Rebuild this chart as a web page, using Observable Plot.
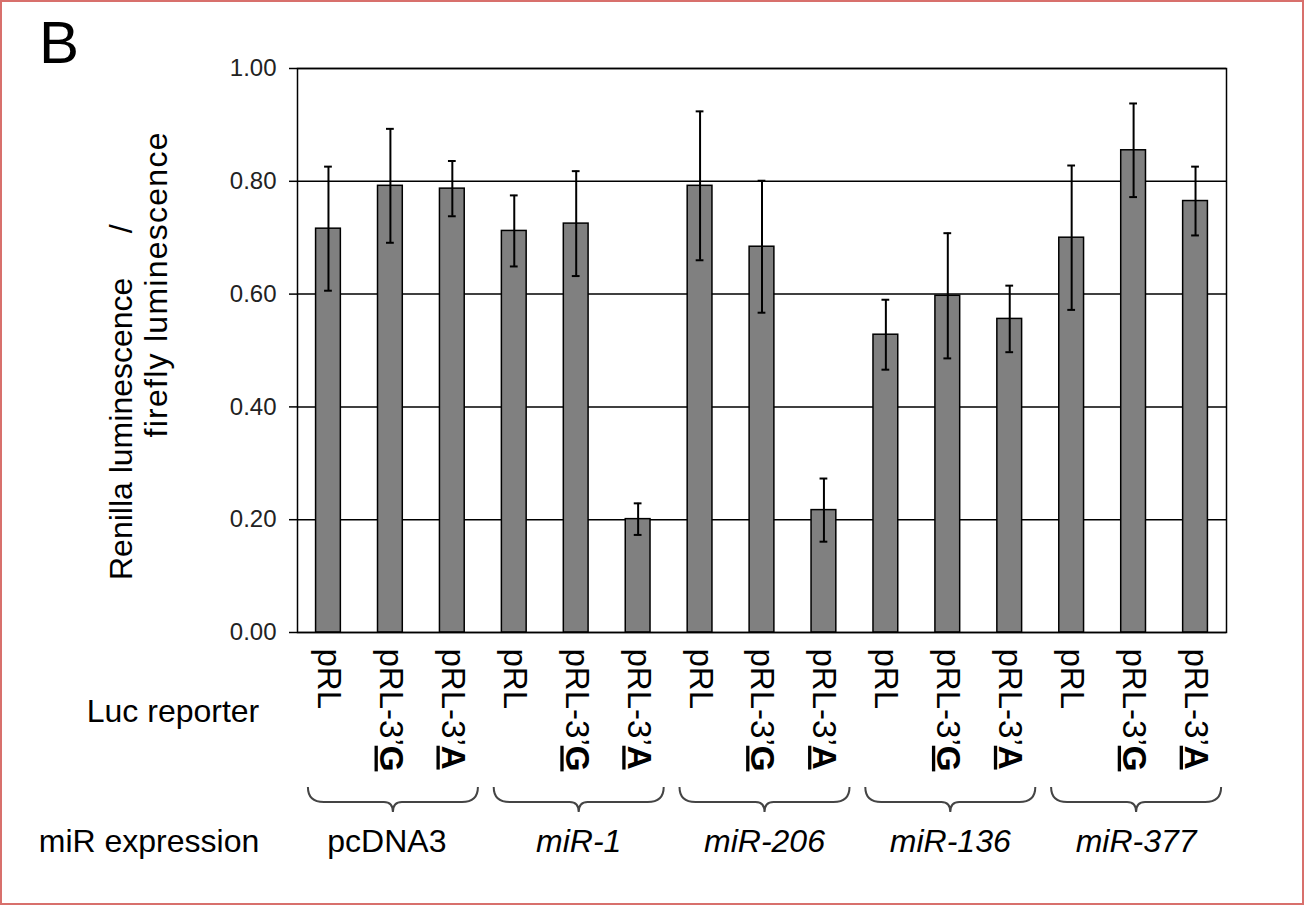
<!DOCTYPE html>
<html><head><meta charset="utf-8">
<script src="https://cdn.jsdelivr.net/npm/d3@7"></script>
<script src="https://cdn.jsdelivr.net/npm/@observablehq/plot@0.6"></script>
<style>
html,body{margin:0;padding:0;background:#fff;}
#chart{position:absolute;left:0;top:0;width:1304px;height:905px;}
#border{position:absolute;left:0;top:0;width:1304px;height:905px;box-sizing:border-box;border:2px solid #d8706c;pointer-events:none;}
</style></head><body><div id="chart"></div><div id="border"></div>
<script>
const groups = ["pcDNA3", "miR-1", "miR-206", "miR-136", "miR-377"];
const reporters = ["pRL", "pRL-3\u2019G", "pRL-3\u2019A"];
const values = [0.716, 0.792, 0.787, 0.712, 0.725, 0.201, 0.792, 0.684, 0.217, 0.528, 0.597, 0.556, 0.700, 0.855, 0.765];
const errors = [0.110, 0.101, 0.049, 0.063, 0.093, 0.028, 0.132, 0.117, 0.056, 0.062, 0.111, 0.059, 0.128, 0.083, 0.061];
const yTicks = [0, 0.2, 0.4, 0.6, 0.8, 1.0];

const FONT = "'Liberation Sans', Arial, sans-serif";
const data = groups.flatMap((g, gi) => reporters.map((r, ri) => {
  const i = gi * 3 + ri;
  return {id: g + "|" + r, group: g, reporter: r, value: values[i], lo: values[i] - errors[i], hi: values[i] + errors[i]};
}));

const chart = Plot.plot({
  width: 1304, height: 905,
  marginLeft: 297, marginRight: 78, marginTop: 68, marginBottom: 273,
  style: {fontFamily: FONT, background: "transparent", color: "#000"},
  x: {domain: data.map(d => d.id), paddingInner: 0.6, paddingOuter: 0.3, round: false, label: null},
  y: {domain: [0, 1], label: null},
  marks: [
    Plot.gridY(yTicks, {stroke: "#000", strokeOpacity: 1, strokeWidth: 1.5}),
    Plot.barY(data, {x: "id", y: "value", fill: "#808080", stroke: "#000", strokeWidth: 1.5}),
    Plot.ruleX(data, {x: "id", y1: "lo", y2: "hi", stroke: "#000", strokeWidth: 2}),
    Plot.tickY(data, {x: "id", y: "hi", stroke: "#000", strokeWidth: 2, insetLeft: 8.5, insetRight: 8.5}),
    Plot.tickY(data, {x: "id", y: "lo", stroke: "#000", strokeWidth: 2, insetLeft: 8.5, insetRight: 8.5}),
    Plot.frame({stroke: "#000", strokeWidth: 1.5}),
    Plot.axisY({ticks: yTicks, tickFormat: d3.format(".2f"), tickSize: 8, tickPadding: 13, fontSize: 24, stroke: "#000", strokeWidth: 1.5, label: null, fill: "#222"}),
    Plot.axisX({tickSize: 0, tickPadding: 16, tickRotate: 90, textAnchor: "start", lineAnchor: "middle", fontSize: 33, tickFormat: id => id.split("|")[1], label: null})
  ]
});
document.getElementById("chart").appendChild(chart);

const svg = d3.select(chart);
// bold underlined G / A in reporter labels
svg.selectAll('g[aria-label="x-axis tick label"] text').each(function() {
  const t = d3.select(this);
  const s = t.text();
  if (s.length > 3) {
    t.text(null);
    t.append("tspan").text(s.slice(0, -1));
    t.append("tspan").attr("font-weight", "bold").style("text-decoration", "underline").text(s.slice(-1));
  }
});

const xs = chart.scale("x");
const ann = svg.append("g").attr("font-family", FONT).attr("fill", "#000").attr("text-anchor", "start");
groups.forEach((g, gi) => {
  const cm = xs.apply(g + "|" + reporters[1]) + xs.bandwidth / 2;
  const c = cm + 3;
  const x0 = c - 85, x1 = c + 85, yt = 787, yh = 802, yb = 812;
  ann.append("path")
    .attr("d", `M${x0},${yt} Q${x0},${yh} ${x0 + 16},${yh} L${c - 9},${yh} Q${c},${yh} ${c},${yb} Q${c},${yh} ${c + 9},${yh} L${x1 - 16},${yh} Q${x1},${yh} ${x1},${yt}`)
    .attr("fill", "none").attr("stroke", "#444").attr("stroke-width", 2);
  ann.append("text").attr("x", gi === 0 ? cm - 3 : cm + 3).attr("y", 852).attr("text-anchor", "middle")
    .attr("font-size", 32).attr("font-style", gi === 0 ? "normal" : "italic").text(g);
});

ann.append("text").attr("x", 39).attr("y", 63).attr("text-anchor", "start").attr("font-size", 60).text("B");
ann.append("text").attr("x", 173).attr("y", 722).attr("text-anchor", "middle").attr("font-size", 32).text("Luc reporter");
ann.append("text").attr("x", 149).attr("y", 852).attr("text-anchor", "middle").attr("font-size", 32).text("miR expression");
ann.append("text").attr("transform", "translate(132,580) rotate(-90)").attr("text-anchor", "start").attr("font-size", 32)
  .style("white-space", "pre").text("Renilla luminescence     /");
ann.append("text").attr("transform", "translate(167,285) rotate(-90)").attr("text-anchor", "middle").attr("font-size", 32)
  .attr("textLength", 305).attr("lengthAdjust", "spacing").text("firefly luminescence");
</script></body></html>
